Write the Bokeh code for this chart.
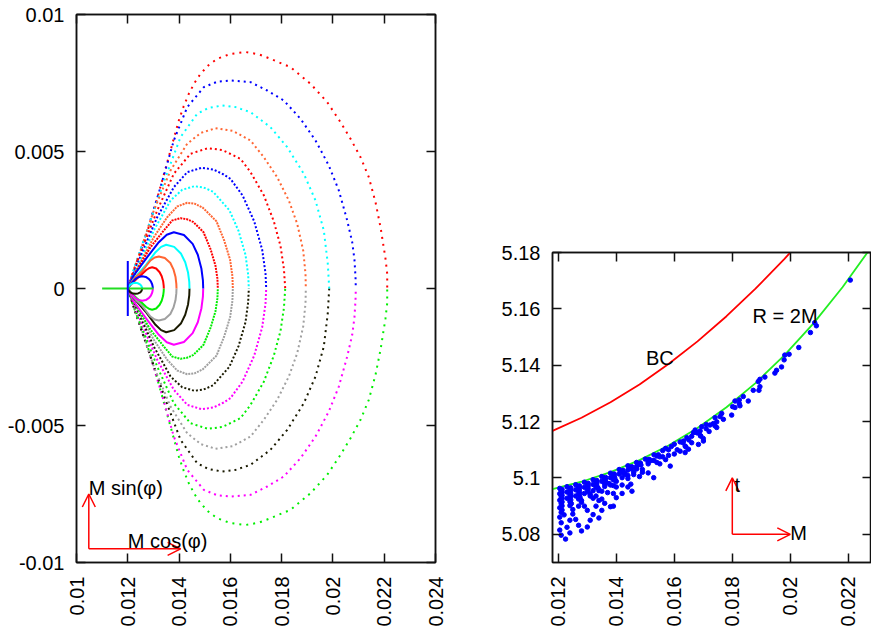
import math
from bokeh.plotting import figure
from bokeh.layouts import row, column
from bokeh.models import (FixedTicker, CustomJSTickFormatter, LinearAxis, Range1d,
                          Label, Arrow, OpenHead, Spacer)
from bokeh.embed import file_html
from bokeh.resources import INLINE

# ---------------- left panel: (M cos(phi), M sin(phi)) half loops ----------------
ux1 = [0.012, 0.012106, 0.012367, 0.012691, 0.013015, 0.013342, 0.013666, 0.01399, 0.01418, 0.01438,
       0.0146, 0.014836, 0.01515, 0.015487, 0.016, 0.016591, 0.0171, 0.017566, 0.018346, 0.019126,
       0.019777, 0.020296, 0.020686, 0.021076, 0.0214, 0.021661, 0.021856, 0.022051, 0.022117, 0.022117]
uy1 = [0, 0.000354, 0.001022, 0.001872, 0.002847, 0.003942, 0.005037, 0.006132, 0.00665, 0.007107,
       0.0075, 0.007837, 0.00815, 0.008384, 0.00856, 0.008632, 0.00855, 0.008384, 0.008077, 0.007472,
       0.0068, 0.00607, 0.005464, 0.004792, 0.004062, 0.00315, 0.002237, 0.001084, 0.000537, 0]
ux2 = [0.012, 0.012235, 0.012757, 0.013276, 0.013795, 0.014317, 0.014965, 0.0155, 0.016006, 0.016786,
       0.017437, 0.018085, 0.018736, 0.019321, 0.01984, 0.02023, 0.020557, 0.020752, 0.02084, 0.020881, 0.020893]
uy2 = [0, 0.000657, 0.002117, 0.003697, 0.005402, 0.006617, 0.007347, 0.00755, 0.007592, 0.00753,
       0.007227, 0.006862, 0.006194, 0.005402, 0.00449, 0.003577, 0.002482, 0.00169, 0.00105, 0.000412, 0]
ux3 = [0.012, 0.012301, 0.012886, 0.013471, 0.014056, 0.014707, 0.01515, 0.015682, 0.0162, 0.016786,
       0.017566, 0.018217, 0.018865, 0.019321, 0.019645, 0.0198, 0.019855]
uy3 = [0, 0.000902, 0.002482, 0.004062, 0.005522, 0.006377, 0.00659, 0.00668, 0.00662, 0.006435,
       0.005887, 0.005157, 0.004187, 0.003212, 0.002117, 0.000902, 0]
ux4 = [0.012, 0.012367, 0.013015, 0.013666, 0.014317, 0.01485, 0.015421, 0.0161, 0.016786, 0.017305,
       0.017827, 0.01828, 0.018607, 0.018841, 0.018931, 0.018943]
uy4 = [0, 0.001022, 0.002847, 0.004307, 0.005282, 0.00568, 0.005851, 0.00575, 0.005402, 0.004792,
       0.004062, 0.003212, 0.002362, 0.001387, 0.000537, 0]
ux5 = [0.012, 0.01243, 0.013147, 0.013795, 0.014446, 0.015121, 0.0157, 0.016396, 0.016786, 0.017305,
       0.017695, 0.017956, 0.01809, 0.018139]
uy5 = [0, 0.001142, 0.002847, 0.004187, 0.004917, 0.005121, 0.00505, 0.00473, 0.00425, 0.0034,
       0.00245, 0.00155, 0.0007, 0]
ux6 = [0.012, 0.01243, 0.013147, 0.013795, 0.014317, 0.014875, 0.01535, 0.01574, 0.016006, 0.01648,
       0.01693, 0.01724, 0.01737, 0.017398]
uy6 = [0, 0.001022, 0.002602, 0.003697, 0.004245, 0.004406, 0.00434, 0.00416, 0.004, 0.00339,
       0.00245, 0.00142, 0.00056, 0]
ux7 = [0.012, 0.01243, 0.013015, 0.013666, 0.014122, 0.014602, 0.01495, 0.01533, 0.01596, 0.01632,
       0.01659, 0.016695, 0.01672]
uy7 = [0, 0.000902, 0.002117, 0.003212, 0.003603, 0.003734, 0.00369, 0.00353, 0.00286, 0.0021,
       0.00123, 0.0005, 0]
ux8 = [0.012, 0.012367, 0.013015, 0.013537, 0.013927, 0.014317, 0.01462, 0.014925, 0.01546, 0.01576,
       0.01599, 0.01608, 0.016096]
uy8 = [0, 0.000719, 0.001872, 0.002602, 0.002993, 0.003128, 0.00309, 0.00295, 0.00245, 0.00175,
       0.00105, 0.00045, 0]
ux9 = [0.012, 0.012301, 0.012886, 0.013405, 0.013732, 0.014056, 0.0143, 0.01455, 0.01495, 0.01523,
       0.01542, 0.015495, 0.015511]
uy9 = [0, 0.000595, 0.001507, 0.002117, 0.002482, 0.002566, 0.00253, 0.00243, 0.00206, 0.00143,
       0.00083, 0.00036, 0]
ux10 = [0.012, 0.012235, 0.012757, 0.01321, 0.01352, 0.013795, 0.01419, 0.01453, 0.01473, 0.01487,
        0.01493, 0.014941]
uy10 = [0, 0.000475, 0.001142, 0.00169, 0.00196, 0.002055, 0.00195, 0.00163, 0.00123, 0.00073,
        0.0003, 0]
ux11 = [0.012, 0.012235, 0.012691, 0.013081, 0.0133, 0.013498, 0.01381, 0.01407, 0.01424, 0.01435,
        0.014398, 0.014407]
uy11 = [0, 0.000354, 0.00084, 0.001325, 0.00152, 0.001595, 0.00152, 0.00128, 0.00096, 0.00058,
        0.00024, 0]
ux12 = [0.012, 0.01207, 0.012172, 0.01236, 0.012562, 0.01273, 0.012886, 0.01305, 0.01321, 0.013446,
        0.01366, 0.01378, 0.01386, 0.013893, 0.0139]
uy12 = [0, 0.00012, 0.000266, 0.00046, 0.000631, 0.00084, 0.001022, 0.00113, 0.001168, 0.00111,
        0.00093, 0.0007, 0.00043, 0.00017, 0]
ux13 = [0.012, 0.01206, 0.012172, 0.01233, 0.012496, 0.01272, 0.01285, 0.012952, 0.013107, 0.013243,
        0.013323, 0.013378, 0.0134, 0.013405]
uy13 = [0, 0.00008, 0.000193, 0.00034, 0.000475, 0.000675, 0.00075, 0.000777, 0.00073, 0.000595,
        0.000446, 0.000266, 0.000108, 0]
ux14 = [0.012, 0.01205, 0.012106, 0.0122, 0.012301, 0.01242, 0.012562, 0.012704, 0.012828, 0.0129,
        0.01295, 0.012972, 0.012976]
uy14 = [0, 0.00008, 0.000146, 0.00025, 0.000354, 0.00042, 0.000449, 0.000422, 0.000344, 0.000258,
        0.000154, 0.000062, 0]
ux15 = [0.012, 0.01204, 0.0121, 0.0122, 0.0123, 0.0124, 0.01249, 0.01254, 0.012562]
uy15 = [0, 0.00008, 0.00014, 0.000195, 0.000208, 0.00019, 0.00014, 0.00008, 0]

# lower half loops, read below the axis at the same M cos(phi) samples
ly1 = [0, -0.000354, -0.001022, -0.001872, -0.002847, -0.003942, -0.005037, -0.006132, -0.00665, -0.007107,
       -0.0075, -0.007837, -0.00815, -0.008384, -0.00856, -0.008632, -0.00855, -0.008384, -0.008077, -0.007472,
       -0.0068, -0.00607, -0.005464, -0.004792, -0.004062, -0.00315, -0.002237, -0.001084, -0.000537, 0]
ly2 = [0, -0.000657, -0.002117, -0.003697, -0.005402, -0.006617, -0.007347, -0.00755, -0.007592, -0.00753,
       -0.007227, -0.006862, -0.006194, -0.005402, -0.00449, -0.003577, -0.002482, -0.00169, -0.00105, -0.000412, 0]
ly3 = [0, -0.000902, -0.002482, -0.004062, -0.005522, -0.006377, -0.00659, -0.00668, -0.00662, -0.006435,
       -0.005887, -0.005157, -0.004187, -0.003212, -0.002117, -0.000902, 0]
ly4 = [0, -0.001022, -0.002847, -0.004307, -0.005282, -0.00568, -0.005851, -0.00575, -0.005402, -0.004792,
       -0.004062, -0.003212, -0.002362, -0.001387, -0.000537, 0]
ly5 = [0, -0.001142, -0.002847, -0.004187, -0.004917, -0.005121, -0.00505, -0.00473, -0.00425, -0.0034,
       -0.00245, -0.00155, -0.0007, 0]
ly6 = [0, -0.001022, -0.002602, -0.003697, -0.004245, -0.004406, -0.00434, -0.00416, -0.004, -0.00339,
       -0.00245, -0.00142, -0.00056, 0]
ly7 = [0, -0.000902, -0.002117, -0.003212, -0.003603, -0.003734, -0.00369, -0.00353, -0.00286, -0.0021,
       -0.00123, -0.0005, 0]
ly8 = [0, -0.000719, -0.001872, -0.002602, -0.002993, -0.003128, -0.00309, -0.00295, -0.00245, -0.00175,
       -0.00105, -0.00045, 0]
ly9 = [0, -0.000595, -0.001507, -0.002117, -0.002482, -0.002566, -0.00253, -0.00243, -0.00206, -0.00143,
       -0.00083, -0.00036, 0]
ly10 = [0, -0.000475, -0.001142, -0.00169, -0.00196, -0.002055, -0.00195, -0.00163, -0.00123, -0.00073,
        -0.0003, 0]
ly11 = [0, -0.000354, -0.00084, -0.001325, -0.00152, -0.001595, -0.00152, -0.00128, -0.00096, -0.00058,
        -0.00024, 0]
ly12 = [0, -0.00012, -0.000266, -0.00046, -0.000631, -0.00084, -0.001022, -0.00113, -0.001168, -0.00111,
        -0.00093, -0.0007, -0.00043, -0.00017, 0]
ly13 = [0, -0.00008, -0.000193, -0.00034, -0.000475, -0.000675, -0.00075, -0.000777, -0.00073, -0.000595,
        -0.000446, -0.000266, -0.000108, 0]
ly14 = [0, -0.00008, -0.000146, -0.00025, -0.000354, -0.00042, -0.000449, -0.000422, -0.000344, -0.000258,
        -0.000154, -0.000062, 0]
ly15 = [0, -0.00008, -0.00014, -0.000185, -0.000195, -0.00018, -0.00014, -0.00008, 0]

cross_h_x = [0.011, 0.013]
cross_h_y = [0.0, 0.0]
cross_v_x = [0.012, 0.012]
cross_v_y = [-0.001, 0.001]

left_xticks = [0.01, 0.012, 0.014, 0.016, 0.018, 0.02, 0.022, 0.024]
left_yticks = [-0.01, -0.005, 0, 0.005, 0.01]

# ---------------- right panel: t vs M ----------------
bc_m = [0.0118, 0.0128, 0.0138, 0.0148, 0.0158, 0.0168, 0.0178, 0.0188, 0.0198, 0.02]
bc_t = [5.1167, 5.12135, 5.12685, 5.1332, 5.14041, 5.14847, 5.15739, 5.16715, 5.17777, 5.18]
r2m_m = [0.0118, 0.0128, 0.0138, 0.0148, 0.0158, 0.0168, 0.0178, 0.0188, 0.0198, 0.0208, 0.0218, 0.02266]
r2m_t = [5.096, 5.09866, 5.10207, 5.10632, 5.11151, 5.11773, 5.12508, 5.13365, 5.14355, 5.15486, 5.16769, 5.18]

pts_m = [
    0.01205, 0.0123, 0.0126, 0.0129, 0.0132, 0.0135, 0.0138, 0.0141, 0.0144, 0.0147, 0.0150, 0.0153, 0.0156, 0.0159, 0.0162,
    0.01213, 0.01243, 0.01273, 0.01303, 0.01333, 0.01363, 0.01393, 0.01423, 0.01453, 0.01483, 0.01513, 0.01545,
    0.0121, 0.0124, 0.0127, 0.0130, 0.0133, 0.0136, 0.0139, 0.0142, 0.0145, 0.0148, 0.0151, 0.0154, 0.0158,
    0.01213, 0.01243, 0.01273, 0.01303, 0.01333, 0.01363, 0.01393, 0.01423, 0.01453, 0.01485, 0.0152,
    0.01205, 0.0123, 0.0126, 0.0129, 0.0132, 0.0135, 0.0138, 0.0141, 0.0144, 0.0147, 0.0151, 0.0155,
    0.01213, 0.01243, 0.01273, 0.01303, 0.01333, 0.01363, 0.01395, 0.0143, 0.0147, 0.0153,
    0.0121, 0.0124, 0.0127, 0.0130, 0.0133, 0.0136, 0.0139, 0.0143, 0.0147, 0.0151, 0.0156,
    0.01213, 0.01243, 0.01273, 0.01303, 0.01338, 0.01375, 0.0142, 0.0146,
    0.01205, 0.0123, 0.0126, 0.0129, 0.0132, 0.0136, 0.0140, 0.0144, 0.0149, 0.0154,
    0.01213, 0.01243, 0.01275, 0.0131, 0.0134, 0.0138, 0.0146,
    0.0121, 0.0124, 0.0127, 0.0131, 0.0135, 0.0139, 0.0144, 0.0149, 0.0155,
    0.01213, 0.01245, 0.0128, 0.0133, 0.0140, 0.0151,
    0.01205, 0.0124, 0.0128, 0.0132, 0.0137, 0.0142, 0.0148,
    0.01213, 0.0127, 0.0135, 0.0144,
    0.0121, 0.0125, 0.0129, 0.0134, 0.0139, 0.0145,
    0.0122, 0.0133, 0.0140,
    0.01205, 0.0125, 0.0130, 0.0136, 0.0142,
    0.0124, 0.0135,
    0.0121, 0.0126, 0.0132, 0.0138,
    0.0123, 0.0131,
    0.01205, 0.0127, 0.0134,
    0.0124, 0.0130,
    0.0121, 0.0128,
    0.01225,
    0.0139, 0.01454, 0.01529, 0.01586, 0.0160, 0.0157,
    0.0157, 0.0160, 0.0161, 0.0163, 0.0165, 0.0166, 0.0168, 0.0169, 0.0171, 0.0172, 0.0158, 0.0162, 0.0164,
    0.0166, 0.0170, 0.0174,
    0.016432, 0.016317, 0.016374, 0.016489, 0.016374, 0.016947, 0.01689, 0.016718, 0.01666, 0.016775,
    0.016912, 0.017004, 0.016832,
    0.017978, 0.017634, 0.017577, 0.017405, 0.017692, 0.017463, 0.017348, 0.017463, 0.017233, 0.017096,
    0.018551, 0.018379, 0.018241, 0.018093, 0.018241, 0.018264, 0.018012, 0.018093,
    0.018952, 0.018918, 0.018723, 0.019124, 0.018952, 0.018895,
    0.019959, 0.01981, 0.019787, 0.019698, 0.019526, 0.019468,
    0.020842, 0.020899, 0.020694, 0.020292, 0.022069]
pts_t = [
    5.0963, 5.0969, 5.0976, 5.0985, 5.0994, 5.1005, 5.1017, 5.1030, 5.1043, 5.1055, 5.1067, 5.1082, 5.1097, 5.1112, 5.1128,
    5.0959, 5.0965, 5.0972, 5.0981, 5.0991, 5.1002, 5.1014, 5.1027, 5.1040, 5.1053, 5.1066, 5.1082,
    5.0954, 5.0961, 5.0968, 5.0977, 5.0988, 5.0998, 5.1011, 5.1024, 5.1037, 5.1050, 5.1063, 5.1078, 5.1100,
    5.0949, 5.0955, 5.0963, 5.0972, 5.0982, 5.0993, 5.1006, 5.1019, 5.1032, 5.1046, 5.1062,
    5.0944, 5.0950, 5.0958, 5.0967, 5.0977, 5.0988, 5.1001, 5.1014, 5.1028, 5.1041, 5.1056, 5.1075,
    5.0938, 5.0944, 5.0952, 5.0962, 5.0972, 5.0984, 5.0999, 5.1016, 5.1035, 5.1062,
    5.0933, 5.0940, 5.0948, 5.0957, 5.0967, 5.0979, 5.0993, 5.1012, 5.1032, 5.1050, 5.1075,
    5.0927, 5.0934, 5.0942, 5.0951, 5.0963, 5.0980, 5.1001, 5.1020,
    5.0921, 5.0928, 5.0936, 5.0945, 5.0955, 5.0970, 5.0988, 5.1009, 5.1030, 5.1055,
    5.0915, 5.0922, 5.0931, 5.0942, 5.0955, 5.0975, 5.1012,
    5.0909, 5.0916, 5.0925, 5.0936, 5.0953, 5.0973, 5.0998, 5.1020, 5.1050,
    5.0901, 5.0909, 5.0920, 5.0936, 5.0968, 5.1018,
    5.0894, 5.0902, 5.0914, 5.0928, 5.0948, 5.0975, 5.1005,
    5.0886, 5.0900, 5.0925, 5.0968,
    5.0878, 5.0888, 5.0900, 5.0920, 5.0945, 5.0978,
    5.0869, 5.0900, 5.0930,
    5.0861, 5.0872, 5.0885, 5.0910, 5.0945,
    5.0850, 5.0885,
    5.0841, 5.0853, 5.0870, 5.0898,
    5.0825, 5.0850,
    5.0815, 5.0832, 5.0858,
    5.0805, 5.0826,
    5.0797, 5.0812,
    5.0783,
    5.0900, 5.0953, 5.1001, 5.1042, 5.1085, 5.1065,
    5.1105, 5.1120, 5.1100, 5.1125, 5.1135, 5.1148, 5.1160, 5.1150, 5.1175, 5.1165, 5.1080, 5.1095, 5.1110,
    5.1125, 5.1140, 5.1185,
    5.1143, 5.1131, 5.1113, 5.1102, 5.1090, 5.1182, 5.1167, 5.1170, 5.1161, 5.1161,
    5.1149, 5.1131, 5.1119,
    5.1223, 5.1229, 5.1218, 5.1214, 5.1208, 5.1199, 5.1193, 5.1179, 5.1188, 5.1190,
    5.1273, 5.1289, 5.1277, 5.1273, 5.1264, 5.1256, 5.1253, 5.1250,
    5.1324, 5.1311, 5.1311, 5.1358, 5.1350, 5.1342,
    5.1439, 5.1436, 5.1419, 5.1394, 5.1382, 5.1372,
    5.1551, 5.1540, 5.1516, 5.1463, 5.1702]

right_xticks = [0.012, 0.014, 0.016, 0.018, 0.02, 0.022]
right_yticks = [5.08, 5.1, 5.12, 5.14, 5.16, 5.18]

FONT = "Liberation Sans"
INK = "#111111"


def style_axes(p, xticks, yticks):
    fmt = CustomJSTickFormatter(code="return tick.toString()")
    p.xgrid.visible = False
    p.ygrid.visible = False
    p.outline_line_color = INK
    p.outline_line_width = 1.5
    for ax, tk in ((p.xaxis[0], xticks), (p.yaxis[0], yticks)):
        ax.ticker = FixedTicker(ticks=tk)
        ax.formatter = fmt
        ax.major_tick_in = 9
        ax.major_tick_out = 0
        ax.minor_tick_line_color = None
        ax.major_tick_line_width = 1.5
        ax.major_tick_line_color = INK
        ax.axis_line_width = 1.5
        ax.axis_line_color = INK
        ax.major_label_text_font = FONT
        ax.major_label_text_font_size = "20px"
        ax.major_label_text_color = "black"
    p.xaxis[0].major_label_orientation = math.pi / 2
    p.xaxis[0].major_label_standoff = 14
    p.yaxis[0].major_label_standoff = 12
    # mirrored tick marks on the top and right sides, no labels
    for side, tk in (("above", xticks), ("right", yticks)):
        ax = LinearAxis(ticker=FixedTicker(ticks=tk), major_tick_in=9, major_tick_out=0,
                        minor_tick_line_color=None, major_tick_line_width=1.5,
                        major_tick_line_color=INK, axis_line_width=1.5, axis_line_color=INK,
                        major_label_text_color=None, major_label_text_alpha=0,
                        major_label_text_font_size="1px", major_label_standoff=0)
        p.add_layout(ax, side)


# ---------------- left figure ----------------
p1 = figure(width=480, height=629, x_range=Range1d(0.01, 0.024), y_range=Range1d(-0.01, 0.01),
            output_backend="svg", toolbar_location=None,
            min_border_left=76, min_border_right=45, min_border_top=14, min_border_bottom=67)
style_axes(p1, left_xticks, left_yticks)

upper = [(ux1, uy1), (ux2, uy2), (ux3, uy3), (ux4, uy4), (ux5, uy5), (ux6, uy6), (ux7, uy7), (ux8, uy8),
         (ux9, uy9), (ux10, uy10), (ux11, uy11), (ux12, uy12), (ux13, uy13), (ux14, uy14), (ux15, uy15)]
lower = [(ux1, ly1), (ux2, ly2), (ux3, ly3), (ux4, ly4), (ux5, ly5), (ux6, ly6), (ux7, ly7), (ux8, ly8),
         (ux9, ly9), (ux10, ly10), (ux11, ly11), (ux12, ly12), (ux13, ly13), (ux14, ly14), (ux15, ly15)]
upper_colors = ["#ff0000", "#0000ff", "#00ffff", "#ff6633"]
lower_colors = ["#00ee00", "#ff00ff", "#1a1a00", "#a0a0a0"]
dashes = ["2 5", "2 4", "2 4", "2 3", "2 3", "2 2", "2 2", "2 1", "2 1",
          "solid", "solid", "solid", "solid", "solid", "solid"]

for i, (xs, ys) in enumerate(lower):
    p1.line(xs, ys, line_color=lower_colors[i % 4], line_width=2, line_dash=dashes[i])
for i, (xs, ys) in enumerate(upper):
    p1.line(xs, ys, line_color=upper_colors[i % 4], line_width=2, line_dash=dashes[i])

p1.line(cross_h_x, cross_h_y, line_color="#22dd22", line_width=2)
p1.line(cross_v_x, cross_v_y, line_color="#0000ff", line_width=2)

head = dict(size=13, line_color="red", line_width=1.5)
p1.add_layout(Arrow(end=OpenHead(**head), x_start=0.01048, y_start=-0.0095, x_end=0.01048, y_end=-0.0075,
                    line_color="red", line_width=1.5))
p1.add_layout(Arrow(end=OpenHead(**head), x_start=0.01048, y_start=-0.0095, x_end=0.01406, y_end=-0.0095,
                    line_color="red", line_width=1.5))
p1.add_layout(Label(x=0.01048, y=-0.00727, text="M sin(\u03c6)", text_font=FONT,
                    text_font_size="20px", text_color="black", text_align="left",
                    text_baseline="alphabetic"))
p1.add_layout(Label(x=0.0120, y=-0.00922, text="M cos(\u03c6)", text_font=FONT,
                    text_font_size="20px", text_color="black", text_align="left",
                    text_baseline="alphabetic"))

# ---------------- right figure ----------------
p2 = figure(width=391, height=391, x_range=Range1d(0.0118, 0.0228), y_range=Range1d(5.07, 5.18),
            output_backend="svg", toolbar_location=None,
            min_border_left=72, min_border_right=0, min_border_top=14, min_border_bottom=67)
style_axes(p2, right_xticks, right_yticks)

p2.line(bc_m, bc_t, line_color="#ff0000", line_width=1.8)
p2.line(r2m_m, r2m_t, line_color="#22ee22", line_width=1.8)
p2.scatter(pts_m, pts_t, size=4.5, fill_color="#0000ff", line_color="#0000ff")

p2.add_layout(Label(x=0.01502, y=5.1427, text="BC", text_font=FONT, text_font_size="20px",
                    text_color="black", text_align="left", text_baseline="alphabetic"))
p2.add_layout(Label(x=0.0187, y=5.1575, text="R = 2M", text_font=FONT, text_font_size="20px",
                    text_color="black", text_align="left", text_baseline="alphabetic"))
p2.add_layout(Arrow(end=OpenHead(**head), x_start=0.018, y_start=5.08, x_end=0.018, y_end=5.1,
                    line_color="red", line_width=1.5))
p2.add_layout(Arrow(end=OpenHead(**head), x_start=0.018, y_start=5.08, x_end=0.02, y_end=5.08,
                    line_color="red", line_width=1.5))
p2.add_layout(Label(x=0.01808, y=5.0975, text="t", text_font=FONT, text_font_size="20px",
                    text_color="black", text_align="left", text_baseline="alphabetic"))
p2.add_layout(Label(x=0.02, y=5.0805, text="M", text_font=FONT, text_font_size="20px",
                    text_color="black", text_align="left", text_baseline="alphabetic"))

layout = row(p1, column(Spacer(width=391, height=238), p2))
open("out.html", "w").write(file_html(layout, INLINE))
